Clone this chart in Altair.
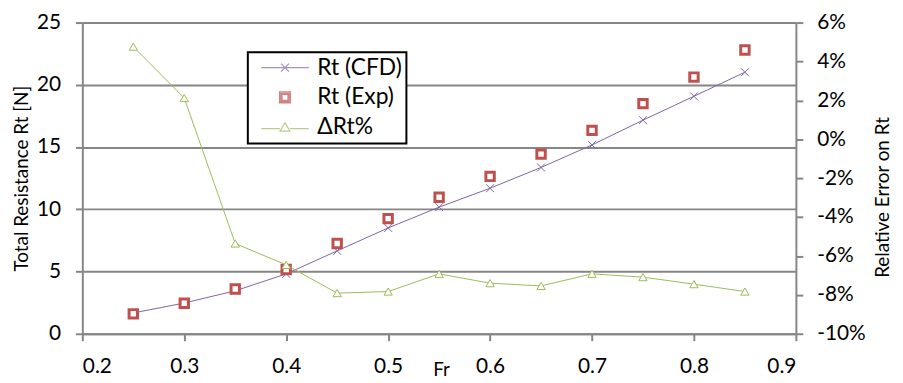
import altair as alt
import pandas as pd

# ---- data ----
FR = [0.25, 0.30, 0.35, 0.40, 0.45, 0.50, 0.55, 0.60, 0.65, 0.70, 0.75, 0.80, 0.85]
RT_CFD = [1.67, 2.47, 3.45, 4.81, 6.66, 8.50, 10.17, 11.69, 13.36, 15.17, 17.16, 19.08, 21.01]
RT_EXP = [1.60, 2.45, 3.59, 5.16, 7.25, 9.25, 10.97, 12.64, 14.43, 16.34, 18.49, 20.62, 22.80]
D_RT = [4.76, 2.12, -5.36, -6.46, -7.91, -7.83, -6.92, -7.40, -7.54, -6.92, -7.09, -7.45, -7.83]

SERIES = ["Rt (CFD)", "Rt (Exp)", "ΔRt%"]
X_TICKS = [0.2, 0.3, 0.4, 0.5, 0.6, 0.7, 0.8, 0.9]
Y_TICKS = [0, 5, 10, 15, 20, 25]
Y2_TICKS = [-10, -8, -6, -4, -2, 0, 2, 4, 6]

PURPLE = "#8064A2"
RED = "#C0504D"
GREEN = "#9BBB59"
AXIS_GRAY = "#868686"
FONT = "Lato"

df = pd.DataFrame({"Fr": FR, "cfd": RT_CFD, "exp": RT_EXP, "drt": D_RT})
leg = pd.DataFrame({"series": SERIES})

LEG_PATHS = [
    "M-2.4,0H2.4M-0.4,-0.4L0.4,0.4M-0.4,0.4L0.4,-0.4",
    "M-0.55,-0.55H0.55V0.55H-0.55ZM-0.42,-0.42H0.42V0.42H-0.42ZM-0.3,-0.3H0.3V0.3H-0.3Z",
    "M-2.4,0.15H-0.5M0.5,0.15H2.4M-0.5,0.4L0,-0.45L0.5,0.4Z",
]

x_enc = alt.X(
    "Fr:Q",
    scale=alt.Scale(domain=[0.2, 0.9], nice=False, zero=False),
    axis=alt.Axis(
        values=X_TICKS, format=".1f", title="Fr", grid=False,
        tickSize=7, labelPadding=15, titleX=362, titleY=36,
        titleBaseline="middle", titleAlign="center",
    ),
)

y_scale = alt.Scale(domain=[0, 25], nice=False)
y_axis = alt.Axis(
    values=Y_TICKS, format="d", title="Total Resistance Rt [N]", grid=True,
    tickSize=7, labelPadding=15, titleAngle=270, titleX=-61, titleY=157,
    titleAlign="center", titleBaseline="middle",
)

base = alt.Chart(df)

cfd_line = base.mark_line(color=PURPLE, strokeWidth=1).encode(
    x=x_enc, y=alt.Y("cfd:Q", scale=y_scale, axis=y_axis)
)
cfd_pts = base.mark_point(
    shape="M-1,-1L1,1M-1,1L1,-1", size=64, filled=False, color=PURPLE, strokeWidth=1, opacity=1
).encode(x=x_enc, y=alt.Y("cfd:Q", scale=y_scale, axis=y_axis))
exp_pts = base.mark_point(
    shape="square", size=72, filled=True, fill="white", stroke=RED, strokeWidth=3, opacity=1
).encode(x=x_enc, y=alt.Y("exp:Q", scale=y_scale, axis=y_axis))

legend_def = alt.Legend(title=None, orient="none", legendX=167, legendY=30)
legend_layer = alt.Chart(leg).mark_point(filled=False, strokeWidth=1.2).encode(
    x=alt.value(-500),
    y=alt.value(-500),
    color=alt.Color("series:N", scale=alt.Scale(domain=SERIES, range=[PURPLE, RED, GREEN]), legend=legend_def),
    shape=alt.Shape("series:N", scale=alt.Scale(domain=SERIES, range=LEG_PATHS), legend=legend_def),
)

left = alt.layer(cfd_line, cfd_pts, exp_pts, legend_layer)

y2_scale = alt.Scale(domain=[-10, 6], nice=False)
y2_axis = alt.Axis(
    orient="right", values=Y2_TICKS, labelExpr="datum.value + '%'", grid=False,
    title="Relative Error on Rt", tickSize=7, labelPadding=14, titleAngle=270,
    titleX=87, titleY=176, titleAlign="center", titleBaseline="middle",
)
drt_line = base.mark_line(color=GREEN, strokeWidth=1).encode(
    x=x_enc, y=alt.Y("drt:Q", scale=y2_scale, axis=y2_axis)
)
drt_pts = base.mark_point(
    shape="triangle-up", size=70, filled=True, fill="white", stroke=GREEN, strokeWidth=1, opacity=1
).encode(x=x_enc, y=alt.Y("drt:Q", scale=y2_scale, axis=y2_axis))

right = alt.layer(drt_line, drt_pts)

chart = (
    alt.layer(left, right)
    .resolve_scale(y="independent")
    .properties(
        width=720, height=314,
        padding={"left": 75, "top": 13, "right": 100, "bottom": 48},
        autosize=alt.AutoSizeParams(type="none"),
        background="white",
    )
    .configure_view(stroke=None)
    .configure_axis(
        labelFont=FONT, labelFontSize=21, labelColor="black",
        titleFont=FONT, titleFontSize=19, titleColor="black", titleFontWeight="normal",
        domainColor=AXIS_GRAY, domainWidth=2, tickColor=AXIS_GRAY, tickWidth=2,
        gridColor=AXIS_GRAY, gridWidth=2, gridOpacity=1,
    )
    .configure_legend(
        labelFont=FONT, labelFontSize=23, labelColor="black",
        strokeColor="black", strokeWidth=2, fillColor="white",
        padding=4, rowPadding=6, symbolSize=400, symbolStrokeWidth=1.2,
        symbolOffset=22, labelOffset=21, symbolFillColor="transparent",
    )
)

chart.save("out.html", embed_options={"renderer": "svg", "actions": False})
